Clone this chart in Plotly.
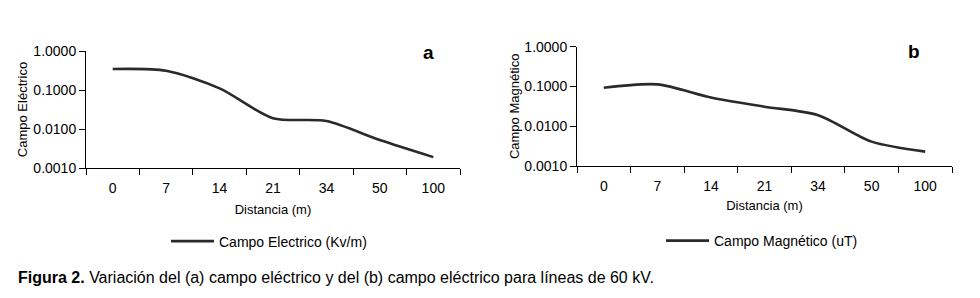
import plotly.graph_objects as go

distancia = ["0", "7", "14", "21", "34", "50", "100"]
campo_electrico = [0.345, 0.31, 0.11, 0.019, 0.016, 0.0052, 0.0019]
campo_magnetico = [0.093, 0.113, 0.053, 0.031, 0.019, 0.0041, 0.0023]
y_tickvals = [0.001, 0.01, 0.1, 1.0]
y_ticktext = ["0.0010", "0.0100", "0.1000", "1.0000"]

W, H = 980, 298
FONT = "Liberation Sans, Arial, sans-serif"
LINE = "#2a2a2a"


def px_x(x):
    return x / W


def px_y(y):
    return (H - y) / H


fig = go.Figure()
fig.add_trace(go.Scatter(
    x=distancia, y=campo_electrico, mode="lines", name="Campo Electrico (Kv/m)",
    line=dict(color=LINE, width=2.6, shape="spline", smoothing=0.8),
    xaxis="x", yaxis="y", legend="legend",
))
fig.add_trace(go.Scatter(
    x=distancia, y=campo_magnetico, mode="lines", name="Campo Magnético (uT)",
    line=dict(color=LINE, width=2.6, shape="spline", smoothing=0.8),
    xaxis="x2", yaxis="y2", legend="legend2",
))

xcommon = dict(
    type="category", range=[-0.5, 6.5], tickson="boundaries", ticks="outside",
    ticklen=6, tickcolor="black", showline=True, linecolor="black", linewidth=1,
    showgrid=False, zeroline=False, automargin=False,
    tickfont=dict(size=14, color="black", family=FONT),
    ticklabelstandoff=7,
)
ycommon = dict(
    type="log", range=[-3, 0], tickvals=y_tickvals, ticktext=y_ticktext,
    ticks="outside", ticklen=6, tickcolor="black", showline=True, linecolor="black",
    linewidth=1, showgrid=False, zeroline=False, automargin=False,
    tickfont=dict(size=14, color="black", family=FONT),
)

fig.update_layout(
    width=W, height=H, autosize=False,
    margin=dict(l=0, r=0, t=0, b=0),
    paper_bgcolor="white", plot_bgcolor="white",
    font=dict(family=FONT, color="black"),
    xaxis=dict(xcommon, domain=[px_x(86), px_x(460)], anchor="y",
               title=dict(text="Distancia (m)", font=dict(size=13), standoff=10)),
    yaxis=dict(ycommon, domain=[px_y(168), px_y(51)], anchor="x",
               title=dict(text="Campo Eléctrico", font=dict(size=13), standoff=2)),
    xaxis2=dict(xcommon, domain=[px_x(577), px_x(952)], anchor="y2",
                title=dict(text="Distancia (m)", font=dict(size=13), standoff=8)),
    yaxis2=dict(ycommon, domain=[px_y(166), px_y(46.7)], anchor="x2",
                title=dict(text="Campo Magnético", font=dict(size=13), standoff=1)),
    legend=dict(x=px_x(166), y=px_y(241.5), xanchor="left", yanchor="middle",
                bgcolor="rgba(0,0,0,0)", font=dict(size=14, family=FONT),
                itemwidth=43, tracegroupgap=0),
    legend2=dict(x=px_x(661), y=px_y(241), xanchor="left", yanchor="middle",
                 bgcolor="rgba(0,0,0,0)", font=dict(size=14, family=FONT),
                 itemwidth=43, tracegroupgap=0),
    showlegend=True,
)

fig.add_annotation(x=px_x(428), y=px_y(52.5), xref="paper", yref="paper",
                   xanchor="center", yanchor="middle",
                   text="<b>a</b>", showarrow=False, font=dict(size=19, family=FONT))
fig.add_annotation(x=px_x(914), y=px_y(51), xref="paper", yref="paper",
                   xanchor="center", yanchor="middle",
                   text="<b>b</b>", showarrow=False, font=dict(size=19, family=FONT))
fig.add_annotation(
    x=px_x(16), y=px_y(277), xref="paper", yref="paper", xanchor="left", yanchor="middle",
    text="<b>Figura 2.</b> Variación del (a) campo eléctrico y del (b) campo eléctrico para líneas de 60 kV.",
    showarrow=False, font=dict(size=16, family=FONT),
)

fig.write_html("out.html", config={"displayModeBar": False},
               post_script="document.body.style.margin='0';document.body.style.overflow='hidden';")
